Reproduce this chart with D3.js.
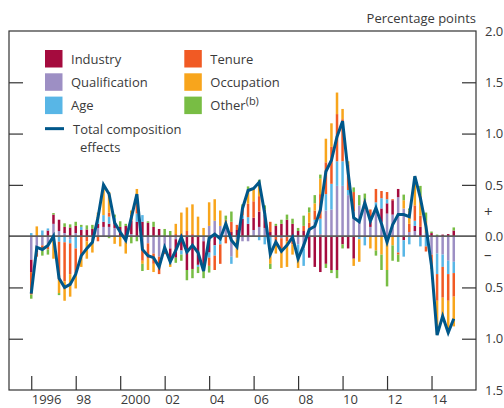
<!DOCTYPE html>
<html>
<head>
<meta charset="utf-8">
<script src="https://cdn.jsdelivr.net/npm/d3@7"></script>
<style>
  body { margin: 0; background: #fff; }
  svg text { font-family: "Open Sans", sans-serif; fill: #3a3a3a; }
</style>
</head>
<body>
<svg id="chart" width="504" height="408"></svg>
<script>
// Quarterly contributions to wage growth (percentage points), 1996 Q1 – 2015 Q1
const firstYear = 1996;

const qualification = [-0.23,-0.10,-0.09,-0.10,0.12,0.05,0.03,-0.03,0.03,0,0,-0.04,0.08,0.09,0.09,0.08,0,-0.06,0.02,0,
  -0.10,-0.07,-0.17,-0.20,-0.09,-0.12,-0.03,0,0,0,0,-0.05,0.10,0.15,0.10,0.12,-0.20,-0.03,-0.05,-0.05,
  0.06,0.09,0.08,0,0,-0.02,0,0,-0.08,-0.12,0.08,0.14,0.02,0.25,0.26,0.49,0.49,0.40,0.24,0.30,
  0.26,0.09,0.26,0.14,0.22,0.21,0.38,0.27,0.04,0.05,0,0.03,-0.18,-0.17,-0.18,-0.24,-0.25];
const industry = [-0.12,-0.06,0,0.055,0.09,0.11,0.06,0.085,0.07,0.06,0.065,0.07,0.04,0.05,0.03,0.07,0.09,0.10,0.13,0.14,
  0.14,0.13,0.09,0.07,0,-0.10,-0.18,-0.14,-0.33,-0.32,-0.28,-0.29,-0.16,-0.09,0,0,0.04,0.06,0.17,0.12,
  0.12,0.15,0.13,0.04,0.10,0.12,0.16,0.12,0.05,0.05,-0.21,-0.30,-0.35,-0.27,-0.33,-0.33,-0.08,-0.12,-0.22,0,
  0,0.05,0,0.13,0.10,0.14,0.08,-0.04,0,0.05,0.09,0,0.03,0,0.015,0.02,0.055];
const age = [0.03,0,0.055,0.02,0,-0.055,-0.06,-0.04,-0.12,0.03,0,0,0.04,0.065,0.07,0.03,0,0,0,0.08,
  0.065,0,0,0,-0.065,-0.05,0,-0.04,0,0,-0.02,0,-0.05,-0.10,-0.08,0,-0.07,0,0.03,0.065,
  0,-0.04,-0.08,-0.19,0,0,0,0,-0.14,-0.17,0,0.02,0.15,0.16,0.25,0.24,0.24,0.05,0,-0.03,
  -0.09,0.04,0.07,0.10,0.04,0,-0.16,-0.16,-0.08,0.05,-0.10,-0.10,0,-0.20,-0.12,-0.13,-0.11];
const tenure = [-0.22,-0.04,-0.05,-0.03,0,-0.37,-0.38,-0.30,-0.24,-0.20,-0.05,0,-0.05,0,0.04,0,0,0,0.06,0.14,
  -0.14,-0.15,-0.10,-0.17,-0.02,0,0.02,0.02,0.05,0.02,0,0,-0.08,-0.14,-0.19,-0.07,0.10,0.05,0.06,0.13,
  0.16,0.15,0.05,0.10,-0.05,-0.10,-0.05,-0.08,0,0.05,0.05,0.09,0.24,0.31,0.36,0.46,0.41,0.25,0.19,0,
  0.09,0.08,0.13,0.07,0.07,0.01,-0.02,0,0.08,0.15,0.11,-0.05,-0.10,-0.26,-0.30,-0.26,-0.23];
const occupation = [0,0.095,0,0,-0.22,-0.13,-0.19,-0.22,-0.15,-0.10,-0.17,-0.12,0.07,0.26,0.20,-0.075,-0.10,-0.11,0.04,0.10,
  -0.03,-0.11,-0.08,0,0,-0.03,0.10,0.21,0.23,0.29,0.19,0.08,0.23,0.21,0.15,0.04,0,-0.18,0,0.13,
  0.12,0.13,0,-0.08,-0.12,-0.19,-0.25,-0.10,-0.09,0,0.10,0.07,0.15,0.23,0.23,0.21,0.10,0.03,-0.07,-0.22,
  0,-0.12,-0.14,-0.18,-0.33,-0.09,0,0.08,0.13,0.28,0.20,0.12,-0.04,-0.33,-0.20,-0.32,-0.29];
const other = [-0.04,0,-0.05,-0.05,0.015,-0.02,0.035,0.03,0.04,0.02,0.04,0.04,0,0.03,-0.02,0.03,0.055,0.02,-0.07,-0.05,
  -0.07,0.015,0.05,0,0.07,0.05,-0.05,-0.06,-0.10,-0.09,-0.06,-0.07,-0.065,0,0,0.04,0.10,0,0.05,0.04,
  0,0.03,0.04,-0.05,0.02,0.04,0.05,0.05,0.03,0.10,0.05,0.08,0.04,-0.04,-0.03,-0.08,-0.04,0,0.045,0.10,
  0.065,0,-0.05,-0.15,-0.16,-0.15,-0.07,0.055,0.02,0,0.09,0.08,0.015,0.015,0,0,0.03];
const totalComposition = [-0.56,-0.11,-0.13,-0.09,0.00,-0.41,-0.50,-0.47,-0.37,-0.19,-0.12,-0.06,0.18,0.50,0.41,0.13,0.04,-0.04,0.18,0.41,
  -0.13,-0.19,-0.21,-0.30,-0.11,-0.25,-0.14,-0.01,-0.155,-0.09,-0.16,-0.34,-0.02,0.02,-0.025,0.12,-0.04,-0.106,0.27,0.445,
  0.465,0.525,0.22,-0.175,-0.057,-0.147,-0.09,-0.01,-0.22,-0.09,0.065,0.097,0.255,0.63,0.74,0.97,1.12,0.62,0.18,0.14,
  0.325,0.147,0.275,0.12,-0.06,0.11,0.21,0.21,0.19,0.585,0.37,0.095,-0.29,-0.965,-0.78,-0.94,-0.805];

const yearTicks = [1996, 1998, 2000, 2002, 2004, 2006, 2008, 2010, 2012, 2014];
const yearLabels = ["1996", "98", "2000", "02", "04", "06", "08", "10", "12", "14"];
const valueTicks = [2.0, 1.5, 1.0, 0.5, 0.0, -0.5, -1.0, -1.5];

// Series in stacking order (nearest the zero line first)
const series = [
  { key: "qualification", name: "Qualification", color: "#9d8fc4", values: qualification },
  { key: "industry",      name: "Industry",      color: "#a50b3e", values: industry },
  { key: "age",           name: "Age",           color: "#58b6e6", values: age },
  { key: "tenure",        name: "Tenure",        color: "#f15a24", values: tenure },
  { key: "occupation",    name: "Occupation",    color: "#f8a51c", values: occupation },
  { key: "other",         name: "Other",         color: "#78bd44", values: other }
];
const lineColor = "#00578a";

(function draw() {
  const rows = totalComposition.map((t, i) => {
    const r = { t: firstYear + i / 4, total: t };
    series.forEach(s => { r[s.key] = s.values[i]; });
    return r;
  });

  const svg = d3.select("#chart");
  const plotLeft = 9, plotRight = 476, plotTop = 31, plotBottom = 390;

  const x = d3.scaleLinear().domain([1995, 2016]).range([plotLeft, plotRight]);
  const y = d3.scaleLinear().domain([-1.5, 2.0]).range([plotBottom, plotTop]);

  const stack = d3.stack()
    .keys(series.map(s => s.key))
    .offset(d3.stackOffsetDiverging);
  const layers = stack(rows);

  const barW = 2.5;
  const gBars = svg.append("g");
  layers.forEach((layer, k) => {
    gBars.selectAll(null)
      .data(layer)
      .join("rect")
      .attr("x", d => x(d.data.t) - barW / 2)
      .attr("width", barW)
      .attr("y", d => y(Math.max(d[0], d[1])))
      .attr("height", d => Math.abs(y(d[0]) - y(d[1])))
      .attr("fill", series[k].color);
  });

  // Zero line
  svg.append("line")
    .attr("x1", plotLeft).attr("x2", plotRight)
    .attr("y1", y(0)).attr("y2", y(0))
    .attr("stroke", "#5e5e5e").attr("stroke-width", 1.8);

  // Total composition line
  svg.append("path")
    .datum(rows)
    .attr("fill", "none")
    .attr("stroke", lineColor)
    .attr("stroke-width", 3)
    .attr("stroke-linejoin", "miter")
    .attr("d", d3.line().x(d => x(d.t)).y(d => y(d.total)));

  // Frame
  svg.append("rect")
    .attr("x", plotLeft).attr("y", plotTop)
    .attr("width", plotRight - plotLeft).attr("height", plotBottom - plotTop)
    .attr("fill", "none").attr("stroke", "#333").attr("stroke-width", 1.2);

  const innerTicks = valueTicks.filter(v => v !== 2.0 && v !== -1.5 && v !== 0);
  const styleAxis = g => {
    g.select(".domain").remove();
    g.selectAll(".tick line").attr("stroke", "#333").attr("stroke-width", 1.2);
  };

  // Inward ticks on both sides
  svg.append("g").attr("transform", `translate(${plotLeft},0)`)
    .call(d3.axisRight(y).tickValues(innerTicks).tickSize(14).tickFormat(""))
    .call(styleAxis);
  svg.append("g").attr("transform", `translate(${plotRight},0)`)
    .call(d3.axisLeft(y).tickValues(innerTicks).tickSize(14).tickFormat(""))
    .call(styleAxis);

  // Value labels on the right (magnitudes only)
  const yLab = svg.append("g").attr("transform", `translate(${plotRight},0)`)
    .call(d3.axisRight(y).tickValues(valueTicks).tickSize(0).tickPadding(9)
      .tickFormat(v => d3.format(".1f")(Math.abs(v))));
  yLab.select(".domain").remove();
  yLab.selectAll("text").attr("font-size", 13).attr("fill", "#3a3a3a")
    .style("font-family", '"Open Sans", sans-serif');

  svg.append("text").attr("x", 484).attr("y", y(0.235)).attr("dy", "0.35em")
    .attr("font-size", 15).text("+");
  svg.append("text").attr("x", 484).attr("y", y(-0.18)).attr("dy", "0.35em")
    .attr("font-size", 15).text("–");

  // Year ticks, pointing up from the bottom
  svg.append("g").attr("transform", `translate(0,${plotBottom})`)
    .call(d3.axisTop(x).tickValues(yearTicks).tickSize(14).tickFormat(""))
    .call(styleAxis);
  const xLab = svg.append("g").attr("transform", `translate(0,${plotBottom})`)
    .call(d3.axisBottom(x).tickValues(yearTicks).tickSize(0).tickPadding(0)
      .tickFormat((d, i) => yearLabels[i]));
  xLab.select(".domain").remove();
  xLab.selectAll("text")
    .attr("text-anchor", "start").attr("dy", null).attr("y", 13.8)
    .attr("font-size", 13).attr("fill", "#3a3a3a")
    .style("font-family", '"Open Sans", sans-serif');

  // Unit label
  svg.append("text").attr("x", plotRight).attr("y", 23)
    .attr("text-anchor", "end").attr("font-size", 13).text("Percentage points");

  // Legend
  const legendItems = [
    { s: "industry", col: 0, row: 0 },
    { s: "qualification", col: 0, row: 1 },
    { s: "age", col: 0, row: 2 },
    { s: "tenure", col: 1, row: 0 },
    { s: "occupation", col: 1, row: 1 },
    { s: "other", col: 1, row: 2 }
  ];
  const colX = [45, 184.3], rowY0 = 50, rowStep = 23.3, sw = 17.5;
  const gLeg = svg.append("g");
  legendItems.forEach(it => {
    const s = series.find(d => d.key === it.s);
    const sx = colX[it.col], sy = rowY0 + it.row * rowStep;
    gLeg.append("rect").attr("x", sx).attr("y", sy).attr("width", sw).attr("height", sw)
      .attr("fill", s.color);
    const t = gLeg.append("text").attr("x", sx + 26).attr("y", sy + sw / 2 + 5)
      .attr("font-size", 13).text(s.name);
    if (it.s === "other") {
      t.append("tspan").attr("font-size", 11).attr("dy", -5).text("(b)");
    }
  });
  const ly = rowY0 + 3 * rowStep + sw / 2;
  gLeg.append("line").attr("x1", 45).attr("x2", 64).attr("y1", ly).attr("y2", ly)
    .attr("stroke", lineColor).attr("stroke-width", 3);
  gLeg.append("text").attr("x", 73).attr("y", ly + 5).attr("font-size", 13).text("Total composition");
  gLeg.append("text").attr("x", 80).attr("y", ly + 23).attr("font-size", 13).text("effects");
})();
</script>
</body>
</html>
